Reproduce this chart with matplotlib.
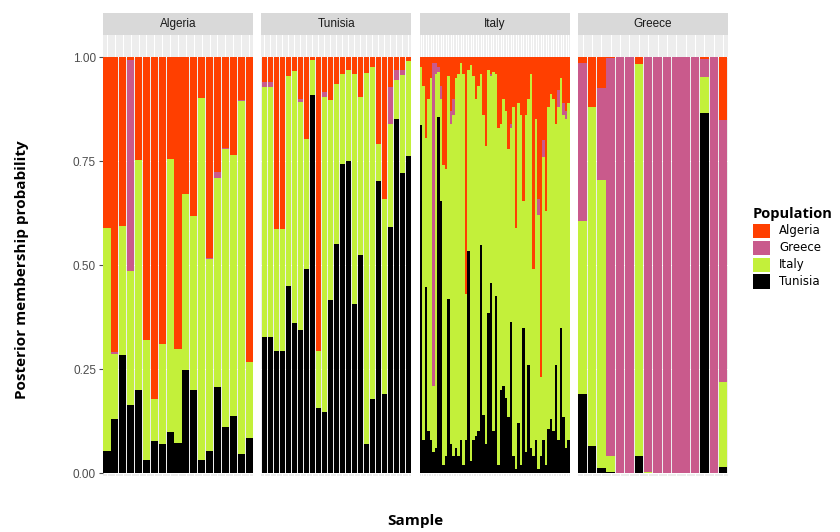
import numpy as np
import matplotlib
matplotlib.use("Agg")
import matplotlib.pyplot as plt
from matplotlib.patches import Patch

# stacked bar values per sample (bottom->top: Tunisia, Italy, Greece, Algeria)
panels = ["Algeria", "Tunisia", "Italy", "Greece"]
pops = ["Algeria", "Greece", "Italy", "Tunisia"]
colors = {"Algeria": "#FF3F00", "Greece": "#C95A8C", "Italy": "#C3F03A", "Tunisia": "#000000"}

# Algeria samples
alg_tun = [0.052, 0.129, 0.283, 0.164, 0.199, 0.032, 0.077, 0.069, 0.099, 0.072,
           0.248, 0.199, 0.032, 0.054, 0.208, 0.111, 0.137, 0.045, 0.085]
alg_ita = [0.538, 0.158, 0.312, 0.321, 0.553, 0.288, 0.101, 0.242, 0.657, 0.227,
           0.423, 0.418, 0.870, 0.461, 0.501, 0.668, 0.627, 0.849, 0.182]
alg_gre = [0.0, 0.003, 0.0, 0.509, 0.0, 0.0, 0.0, 0.0, 0.0, 0.0,
           0.0, 0.0, 0.0, 0.003, 0.014, 0.003, 0.0, 0.003, 0.0]

# Tunisia samples
tun_tun = [0.327, 0.327, 0.293, 0.293, 0.449, 0.361, 0.345, 0.490, 0.909, 0.157,
           0.147, 0.417, 0.550, 0.744, 0.750, 0.407, 0.523, 0.069, 0.179, 0.701,
           0.191, 0.591, 0.852, 0.721, 0.761]
tun_ita = [0.602, 0.602, 0.293, 0.293, 0.506, 0.605, 0.548, 0.314, 0.083, 0.136,
           0.758, 0.480, 0.386, 0.216, 0.220, 0.553, 0.382, 0.893, 0.797, 0.091,
           0.468, 0.249, 0.094, 0.237, 0.229]
tun_gre = [0.011, 0.011, 0.0, 0.0, 0.0, 0.0, 0.005, 0.0, 0.0, 0.0,
           0.012, 0.0, 0.0, 0.0, 0.0, 0.0, 0.0, 0.0, 0.0, 0.0,
           0.0, 0.088, 0.022, 0.010, 0.0]

# Italy samples
ita_tun = [0.836, 0.08, 0.447, 0.10, 0.08, 0.05, 0.06, 0.857, 0.655, 0.02,
           0.04, 0.418, 0.07, 0.04, 0.06, 0.04, 0.08, 0.02, 0.08, 0.533,
           0.03, 0.08, 0.09, 0.10, 0.548, 0.14, 0.07, 0.385, 0.458, 0.10,
           0.425, 0.02, 0.20, 0.21, 0.18, 0.134, 0.364, 0.04, 0.01, 0.12,
           0.02, 0.348, 0.05, 0.26, 0.06, 0.04, 0.08, 0.01, 0.04, 0.08,
           0.02, 0.107, 0.13, 0.10, 0.26, 0.08, 0.348, 0.134, 0.06, 0.08]
ita_ita = [0.139, 0.85, 0.358, 0.80, 0.87, 0.16, 0.90, 0.108, 0.245, 0.72,
           0.69, 0.537, 0.77, 0.82, 0.89, 0.92, 0.905, 0.94, 0.35, 0.437,
           0.95, 0.875, 0.81, 0.83, 0.412, 0.72, 0.715, 0.585, 0.497, 0.865,
           0.535, 0.81, 0.64, 0.69, 0.69, 0.646, 0.466, 0.84, 0.58, 0.77,
           0.84, 0.307, 0.81, 0.64, 0.90, 0.45, 0.77, 0.61, 0.19, 0.68,
           0.61, 0.773, 0.78, 0.80, 0.58, 0.80, 0.602, 0.726, 0.79, 0.81]
ita_gre = [0.0, 0.0, 0.0, 0.0, 0.0, 0.775, 0.025, 0.01, 0.03, 0.0,
           0.0, 0.0, 0.03, 0.04, 0.0, 0.0, 0.0, 0.0, 0.0, 0.0,
           0.0, 0.0, 0.0, 0.0, 0.0, 0.0, 0.0, 0.0, 0.005, 0.0,
           0.0, 0.0, 0.0, 0.0, 0.0, 0.0, 0.01, 0.0, 0.0, 0.0,
           0.0, 0.0, 0.0, 0.0, 0.0, 0.0, 0.0, 0.04, 0.0, 0.04,
           0.0, 0.0, 0.0, 0.0, 0.0, 0.04, 0.0, 0.03, 0.02, 0.0]

# Greece samples
gre_tun = [0.191, 0.064, 0.013, 0.002, 0.0, 0.0, 0.040, 0.0, 0.0, 0.0,
           0.0, 0.0, 0.0, 0.865, 0.0, 0.014]
gre_ita = [0.415, 0.817, 0.692, 0.040, 0.0, 0.0, 0.944, 0.003, 0.0, 0.0,
           0.0, 0.0, 0.0, 0.087, 0.0, 0.205]
gre_gre = [0.380, 0.0, 0.220, 0.956, 1.0, 1.0, 0.0, 0.997, 1.0, 1.0,
           1.0, 1.0, 1.0, 0.044, 1.0, 0.629]

data = {
    "Algeria": (alg_tun, alg_ita, alg_gre),
    "Tunisia": (tun_tun, tun_ita, tun_gre),
    "Italy": (ita_tun, ita_ita, ita_gre),
    "Greece": (gre_tun, gre_ita, gre_gre),
}
bar_w = {"Algeria": 0.9, "Tunisia": 0.88, "Italy": 0.96, "Greece": 0.9}

W, H = 840, 532
fig = plt.figure(figsize=(W / 100, H / 100), dpi=100)
fig.patch.set_facecolor("white")

left, pw, gap = 103, 150, 8.3
ptop, pbot = 35, 476
strip_top = 13

for k, name in enumerate(panels):
    x0 = left + k * (pw + gap)
    ax = fig.add_axes([x0 / W, 1 - pbot / H, pw / W, (pbot - ptop) / H])
    tun, ita, gre = [np.array(v) for v in data[name]]
    alg = 1 - tun - ita - gre
    n = len(tun)
    x = np.arange(n)
    bottom = np.zeros(n)
    for vals, pop in [(tun, "Tunisia"), (ita, "Italy"), (gre, "Greece"), (alg, "Algeria")]:
        ax.bar(x, vals, bottom=bottom, width=bar_w[name], color=colors[pop],
               linewidth=0, zorder=3)
        bottom += vals
    ax.set_facecolor("#EDEDED")
    ax.set_xlim(-0.5, n - 0.5)
    ax.set_ylim(-0.007, 1.053)
    ax.set_xticks(x)
    ax.set_yticks([0, 0.25, 0.5, 0.75, 1.0])
    ax.grid(True, color="white", linewidth=0.8, zorder=0)
    ax.tick_params(axis="x", length=0, labelbottom=False)
    for s in ax.spines.values():
        s.set_visible(False)
    if k == 0:
        ax.set_yticklabels(["0.00", "0.25", "0.50", "0.75", "1.00"],
                           fontsize=8.5, color="#4D4D4D", family="Liberation Sans")
        ax.tick_params(axis="y", length=3, color="#4D4D4D", pad=2)
    else:
        ax.tick_params(axis="y", length=0, labelleft=False)

    # facet strip
    sax = fig.add_axes([x0 / W, 1 - ptop / H, pw / W, (ptop - strip_top) / H])
    sax.set_facecolor("#D9D9D9")
    sax.set_xticks([])
    sax.set_yticks([])
    for s in sax.spines.values():
        s.set_visible(False)
    sax.text(0.5, 0.5, name, ha="center", va="center", fontsize=8.5,
             color="#1A1A1A", family="Liberation Sans", transform=sax.transAxes)

fig.text(22 / W, 1 - 270 / H, "Posterior membership probability", rotation=90,
         ha="center", va="center", fontsize=11, fontweight="bold", family="Open Sans")
fig.text(415 / W, 1 - 521 / H, "Sample", ha="center", va="center",
         fontsize=11, fontweight="bold", family="Open Sans")

handles = [Patch(facecolor=colors[p], edgecolor="none") for p in pops]
leg = fig.legend(handles, pops, loc="upper left", bbox_to_anchor=(742 / W, 1 - 196 / H),
                 frameon=False, title="Population", fontsize=8.5,
                 handlelength=1.45, handleheight=1.45, labelspacing=0.25,
                 handletextpad=0.8, alignment="left",
                 title_fontproperties={"weight": "bold", "size": 10.5, "family": "Open Sans"})

fig.savefig("out.png", dpi=100, facecolor="white")
